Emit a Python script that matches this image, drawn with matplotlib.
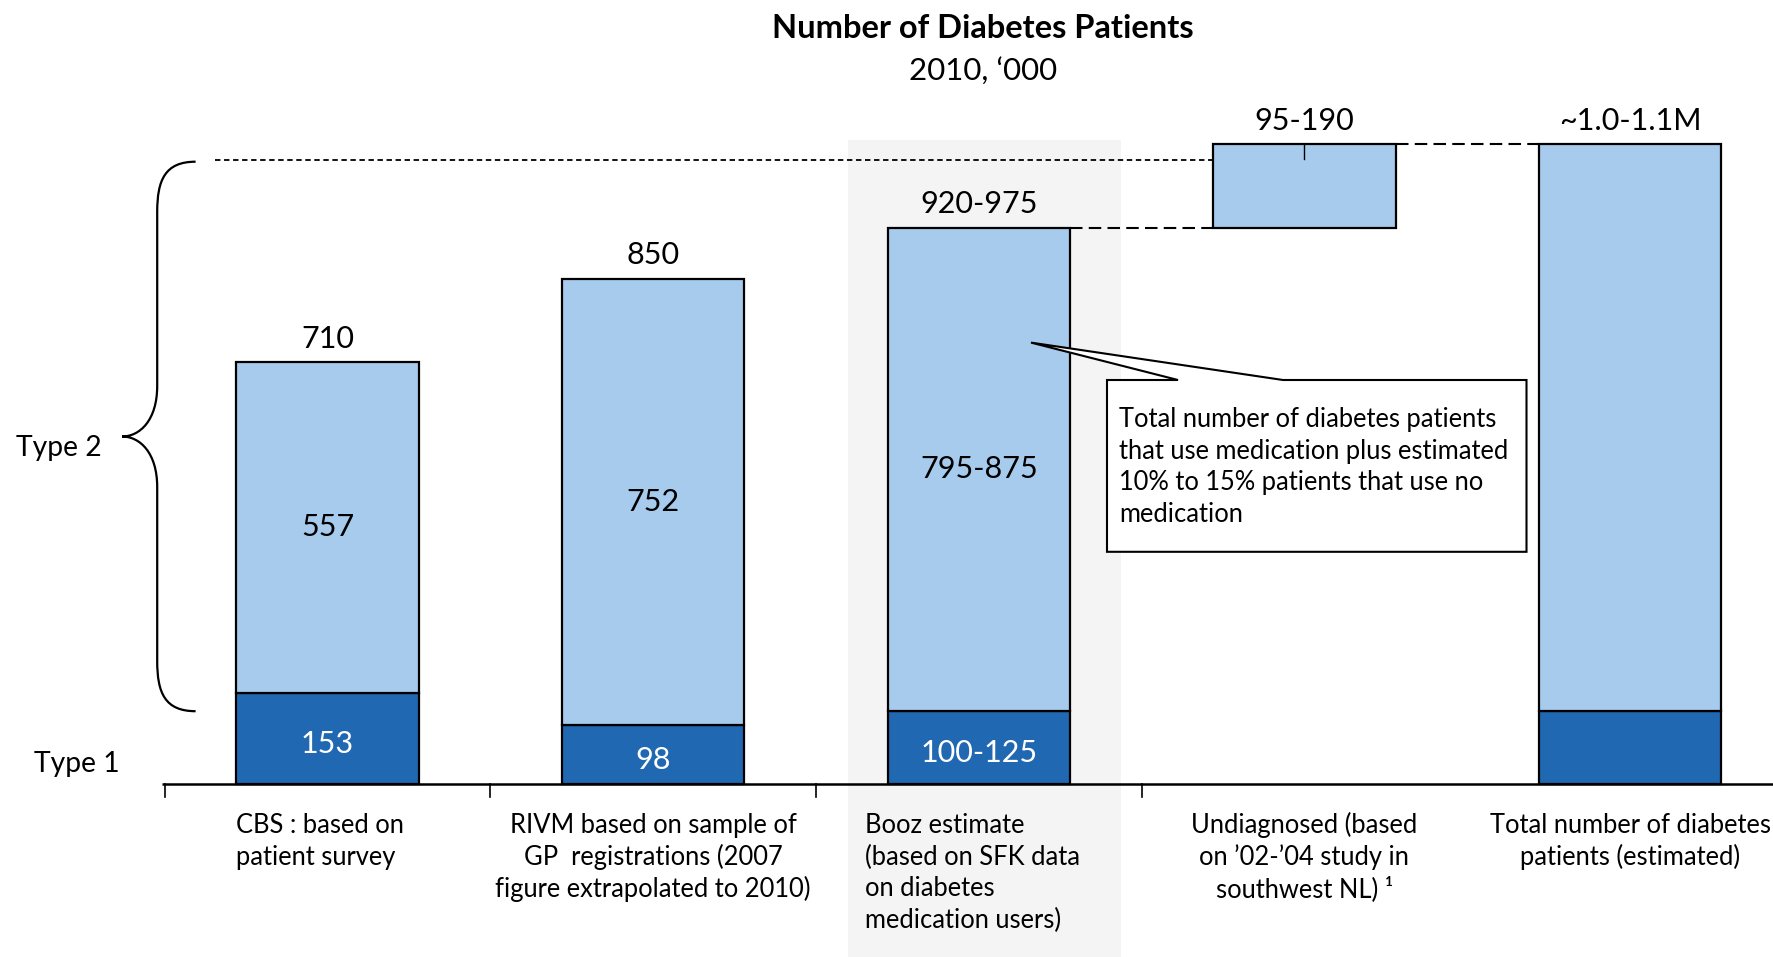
"""Number of diabetes patients, 2010 - stacked bars with bridge to total."""
import matplotlib
import matplotlib.pyplot as plt
import numpy as np
from matplotlib.patches import Rectangle, Polygon, PathPatch
from matplotlib.path import Path
from matplotlib.transforms import Affine2D, blended_transform_factory

matplotlib.use("Agg")
plt.rcParams["font.family"] = ["Lato", "DejaVu Sans"]

# ---- data ('000 patients) ----
categories = [
    ["CBS : based on", "patient survey"],
    ["RIVM based on sample of", "GP  registrations (2007", "figure extrapolated to 2010)"],
    ["Booz estimate", "(based on SFK data", "on diabetes", "medication users)"],
    ["Undiagnosed (based", "on \u201902-\u201904 study in", "southwest NL) \u00b9"],
    ["Total number of diabetes", "patients (estimated)"],
]
type1 = [153, 98, 122, 0, 122]
type2 = [557, 752, 814, 141, 955]
floating = [False, False, False, True, False]
top_labels = ["710", "850", "920-975", "95-190", "~1.0-1.1M"]
type2_labels = ["557", "752", "795-875", "", ""]
type1_labels = ["153", "98", "100-125", "", ""]
callout_text = [
    "Total number of diabetes patients",
    "that use medication plus estimated",
    "10% to 15% patients that use no",
    "medication",
]

LIGHT = "#A6CBEC"
DARK = "#2168B2"
BAND = "#F4F4F4"
FS = 18.4        # running text
FS_NUM = 22      # value labels
W, H, DPI = 17.73, 9.57, 100

fig = plt.figure(figsize=(W, H), dpi=DPI)
ax = fig.add_axes([0, 0, 1, 1])
ax.set_xlim(-1.006, 4.439)
ax.set_ylim(-292, 1319)
ax.axis("off")

# pixel coords, origin top-left
px = Affine2D().scale(1 / DPI, -1 / DPI).translate(0, H) + fig.dpi_scale_trans
x_data_y_px = blended_transform_factory(ax.transData, px)

x = np.arange(len(type1))
width = 0.56
t1 = np.array(type1)
t2 = np.array(type2)
totals = t1 + t2
bottoms = t1.copy()
# undiagnosed block floats on top of the Booz estimate
for i, f in enumerate(floating):
    if f:
        bottoms[i] = totals[i - 1]
tops = bottoms + t2

# grey highlight behind Booz estimate
ax.add_patch(Rectangle((848, 140), 273, 817, transform=px, color=BAND, zorder=0, lw=0))

solid = [i for i in x if type1[i] > 0]
ax.bar(x[solid], t1[solid], width, color=DARK, edgecolor="black", lw=1.6, zorder=2)
ax.bar(x, t2, width, bottom=bottoms, color=LIGHT, edgecolor="black", lw=1.6, zorder=2)

for i in x:
    ax.text(i, tops[i] + 39, top_labels[i], ha="center", va="center", fontsize=FS_NUM)
    if type2_labels[i]:
        ax.text(i, bottoms[i] + t2[i] / 2, type2_labels[i], ha="center", va="center",
                fontsize=FS_NUM)
    if type1_labels[i]:
        ax.text(i, t1[i] / 2 - 10, type1_labels[i], ha="center", va="center",
                fontsize=FS_NUM, color="white")

# baseline with category separators
ax.plot([-0.51, 4.6], [0, 0], color="black", lw=1.8, zorder=3, solid_capstyle="butt")
for b in np.arange(len(x) - 1) - 0.5:
    ax.plot([b, b], [0, -23], color="black", lw=1.2, zorder=3)

# connectors between bars
ax.plot([x[2] + width / 2, x[3] - width / 2], [tops[2], tops[2]], color="black",
        lw=1.5, ls=(0, (6, 3)), zorder=1)
ax.plot([x[3] + width / 2, x[4] - width / 2], [tops[3], tops[3]], color="black",
        lw=1.5, ls=(0, (6, 3)), zorder=1)
ax.plot([x[3], x[3]], [tops[3], tops[3] - 25], color="black", lw=1.0, zorder=3)
ax.plot([215, 1218], [159.5, 159.5], transform=px, color="black", lw=1.3,
        ls=(0, (3, 2)), zorder=1)

# curly brace for Type 2
verts = [
    (195.6, 161.7), (165, 161.7), (157.2, 180), (157.2, 212),
    (157.2, 386),
    (157.2, 420), (140, 436.5), (122.1, 436.5),
    (140, 436.5), (157.2, 453), (157.2, 487),
    (157.2, 661),
    (157.2, 693), (165, 711.2), (195.6, 711.2),
]
codes = [Path.MOVETO, Path.CURVE4, Path.CURVE4, Path.CURVE4, Path.LINETO,
         Path.CURVE4, Path.CURVE4, Path.CURVE4, Path.CURVE4, Path.CURVE4, Path.CURVE4,
         Path.LINETO, Path.CURVE4, Path.CURVE4, Path.CURVE4]
ax.add_patch(PathPatch(Path(verts, codes), transform=px, fill=False, lw=1.6, ec="black"))

ax.text(15.8, 447.8, "Type 2", transform=px, ha="left", va="center", fontsize=20.3)
ax.text(34, 764.4, "Type 1", transform=px, ha="left", va="center", fontsize=20.3)

# callout
ax.add_patch(Polygon([(1107, 380), (1178, 380), (1031, 342.6), (1283, 380),
                      (1526.5, 380), (1526.5, 551.8), (1107, 551.8)],
                     closed=True, transform=px, fc="white", ec="black", lw=1.5, zorder=4))
for k, line in enumerate(callout_text):
    ax.text(1119.4, 419.5 + 31.7 * k, line, transform=px, ha="left", va="center",
            fontsize=FS, zorder=5)

# category labels
for i, lines in enumerate(categories):
    if i == 0:
        xpos, ha = x[i] - width / 2, "left"
    elif i == 2:
        xpos, ha = x[i] - 0.35, "left"
    else:
        xpos, ha = x[i], "center"
    for k, line in enumerate(lines):
        ax.text(xpos, 825.4 + 31.6 * k, line, transform=x_data_y_px, ha=ha,
                va="center", fontsize=FS)

# titles
ax.text(982.6, 28.3, "Number of Diabetes Patients", transform=px, ha="center",
        va="center", fontsize=23.5, fontweight="bold")
ax.text(982.6, 71.2, "2010, \u2018000", transform=px, ha="center", va="center",
        fontsize=22.5)

fig.savefig("out.png", dpi=DPI)
